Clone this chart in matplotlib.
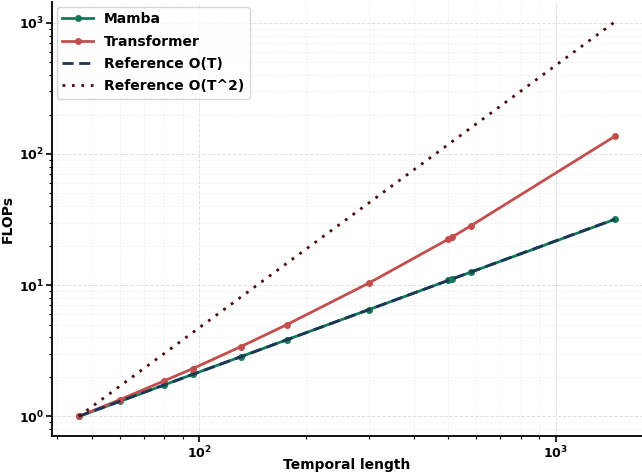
#!/usr/bin/env python3

import numpy as np
import matplotlib
matplotlib.use("Agg")
import matplotlib.pyplot as plt

# temporal lengths
lengths = [46, 60, 80, 96, 131, 176, 300, 500, 512, 578, 1470]
# normalised FLOPs
mamba_flops = [1.0, 1.30, 1.74, 2.09, 2.85, 3.83, 6.52, 10.87, 11.13, 12.55, 31.8]
transformer_flops = [1.0, 1.34, 1.87, 2.31, 3.40, 4.99, 10.4, 22.4, 23.2, 28.3, 137.0]

plt.rcParams['font.family'] = ['DejaVu Sans']
plt.rcParams['font.weight'] = 'bold'

fig = plt.figure(figsize=(6.42, 4.74), dpi=100)
ax = fig.add_axes([0.081, 0.080, 0.919, 0.916])

t = np.array(lengths, dtype=float)
ref_lin = t / t[0]          # O(T) reference
ref_quad = (t / t[0]) ** 2  # O(T^2) reference

ax.plot(lengths, mamba_flops, color='#127a58', lw=2, marker='o', ms=4, label='Mamba')
ax.plot(lengths, transformer_flops, color='#c44e4e', lw=2, marker='o', ms=4, label='Transformer')
ax.plot(lengths, ref_lin, color='#1b3556', lw=2, ls=(0, (4, 2)), label='Reference O(T)')
ax.plot(lengths, ref_quad, color='#4a0a0f', lw=2, ls=(0, (1, 2.4)), label='Reference O(T^2)')

ax.set_xscale('log')
ax.set_yscale('log')

ax.grid(True, which='major', ls='--', color='#e2e2e2', lw=0.7)
ax.grid(True, which='minor', ls='--', color='#f0f0f0', lw=0.5)
ax.set_axisbelow(True)

for side in ['top', 'right']:
	ax.spines[side].set_visible(False)
for side in ['left', 'bottom']:
	ax.spines[side].set_linewidth(1.3)

ax.tick_params(axis='both', which='major', labelsize=9, width=1.2, length=4, pad=2)
ax.tick_params(axis='both', which='minor', width=0.8, length=2.5)
for lbl in ax.get_xticklabels() + ax.get_yticklabels():
	lbl.set_fontweight('bold')

ax.set_xlabel('Temporal length', fontsize=10, fontweight='bold', labelpad=-2)
ax.set_ylabel('FLOPs', fontsize=10, fontweight='bold', labelpad=3)

leg = ax.legend(loc='upper left', frameon=True, handlelength=2.2, labelspacing=0.6,
	borderaxespad=0.35, prop={'weight': 'bold', 'size': 10})
leg.get_frame().set_edgecolor('#cccccc')

fig.savefig('out.png', dpi=100)
